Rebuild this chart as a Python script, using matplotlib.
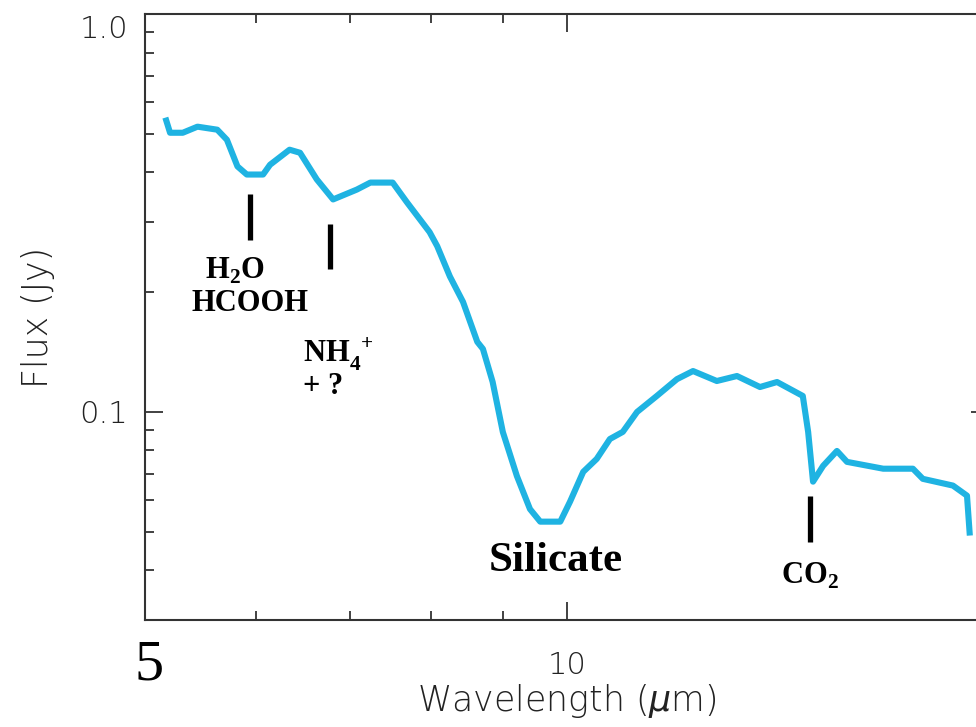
import matplotlib
matplotlib.use("Agg")
import matplotlib.pyplot as plt
from matplotlib.ticker import FixedLocator, NullFormatter, FixedFormatter

# ---- data ----
wavelength = [5.17, 5.21, 5.32, 5.45, 5.63, 5.72, 5.82, 5.91, 6.07, 6.14, 6.34, 6.45,
              6.63, 6.81, 7.08, 7.24, 7.51, 7.69, 7.98, 8.08, 8.25, 8.43, 8.63, 8.71,
              8.85, 9.00, 9.21, 9.41, 9.57, 9.89, 10.05, 10.27, 10.50, 10.73, 10.96,
              11.22, 11.59, 11.98, 12.30, 12.79, 13.22, 13.73, 14.12, 14.73, 14.86,
              14.98, 15.23, 15.58, 15.84, 16.81, 17.65, 17.94, 18.85, 19.29, 19.38]
flux = [0.549, 0.503, 0.503, 0.521, 0.512, 0.483, 0.414, 0.395, 0.395, 0.418, 0.456,
        0.448, 0.384, 0.342, 0.362, 0.377, 0.377, 0.336, 0.283, 0.261, 0.219, 0.189,
        0.150, 0.144, 0.119, 0.089, 0.069, 0.057, 0.053, 0.053, 0.0595, 0.0707,
        0.0762, 0.0855, 0.0891, 0.100, 0.1097, 0.1209, 0.1267, 0.1196, 0.1231,
        0.1155, 0.1189, 0.1097, 0.0891, 0.0668, 0.0732, 0.0798, 0.0749, 0.0720,
        0.0720, 0.0679, 0.0653, 0.0616, 0.0489]

# feature markers: (wavelength, flux_top, flux_bottom)
marker_wl = [5.94, 6.78, 14.9]
marker_top = [0.352, 0.296, 0.0616]
marker_bot = [0.271, 0.228, 0.0472]

# feature labels
label_text = [r"H$_\mathbf{2}$O", "HCOOH", r"NH$_\mathbf{4}^{\ +}$", "+ ?", "Silicate", r"CO$_\mathbf{2}$"]
label_wl = [5.80, 5.94, 6.48, 6.48, 9.82, 14.9]
label_fx = [0.226, 0.187, 0.140, 0.1157, 0.0421, 0.0386]
label_size = [22, 22, 22, 22, 31, 22]
label_ha = ["center", "center", "left", "left", "center", "center"]

x_major = [10]
x_minor = [6, 7, 8, 9]
y_major = [0.1, 1.0]
y_minor = [0.04, 0.05, 0.06, 0.07, 0.08, 0.09, 0.2, 0.3, 0.4, 0.5, 0.6, 0.7, 0.8, 0.9]

plt.rcParams['mathtext.fontset'] = 'custom'
plt.rcParams['mathtext.rm'] = 'Liberation Serif:bold'
plt.rcParams['mathtext.bf'] = 'Liberation Serif:bold'
plt.rcParams['mathtext.it'] = 'DejaVu Sans:italic'

fig = plt.figure(figsize=(9.76, 7.27), dpi=100)
ax = fig.add_axes([145/976, (727-620)/727, (989-145)/976, (620-14)/727])
ax.set_xscale('log')
ax.set_yscale('log')
ax.set_xlim(5, 20)
ax.set_ylim(0.03, 1.0)

ax.plot(wavelength, flux, color='#1fb3e2', lw=4.4, solid_joinstyle='round',
        solid_capstyle='butt')

for w, t, b in zip(marker_wl, marker_top, marker_bot):
    ax.plot([w, w], [b, t], color='black', lw=3.8, solid_capstyle='butt')

for txt, w, f, s, ha in zip(label_text, label_wl, label_fx, label_size, label_ha):
    ax.text(w, f, txt, fontsize=s, ha=ha, va='center', family='Liberation Serif',
            fontweight='bold', color='black')

tc = '#333333'
ax.xaxis.set_major_locator(FixedLocator(x_major))
ax.xaxis.set_minor_locator(FixedLocator(x_minor))
ax.xaxis.set_major_formatter(FixedFormatter(['10']))
ax.xaxis.set_minor_formatter(NullFormatter())
ax.yaxis.set_major_locator(FixedLocator(y_major))
ax.yaxis.set_minor_locator(FixedLocator(y_minor))
ax.yaxis.set_major_formatter(FixedFormatter(['0.1', '']))
ax.yaxis.set_minor_formatter(NullFormatter())

ax.tick_params(which='both', direction='in', color=tc, width=1.3,
               top=True, right=True, labelsize=22, labelcolor='#222222')
ax.tick_params(which='major', length=13, pad=12)
ax.tick_params(which='minor', length=6.5)
ax.tick_params(axis='x', which='major', pad=22)
for lab in ax.get_xticklabels() + ax.get_yticklabels():
    lab.set_fontweight('light')
for sp in ax.spines.values():
    sp.set_color(tc)
    sp.set_linewidth(1.5)

# the "1.0" label sits slightly below the top of the axis in the original
ax.annotate('1.0', xy=(0, 1.0), xycoords=('axes fraction', 'data'),
            xytext=(-12, -11), textcoords='offset points', ha='right', va='center',
            fontsize=22, fontweight='light', color='#222222')
ax.annotate('5', xy=(5, 0.03), xycoords='data', xytext=(3, -33),
            textcoords='offset points', ha='center', va='center',
            fontsize=42, family='Liberation Serif', color='black')

ax.set_xlabel(r'Wavelength ($\mu$m)', fontsize=25, fontweight='light',
              color='#222222', labelpad=2)
ax.set_ylabel('Flux (Jy)', fontsize=25, fontweight='light', color='#222222',
              labelpad=18)

fig.savefig('out.png', dpi=100)
